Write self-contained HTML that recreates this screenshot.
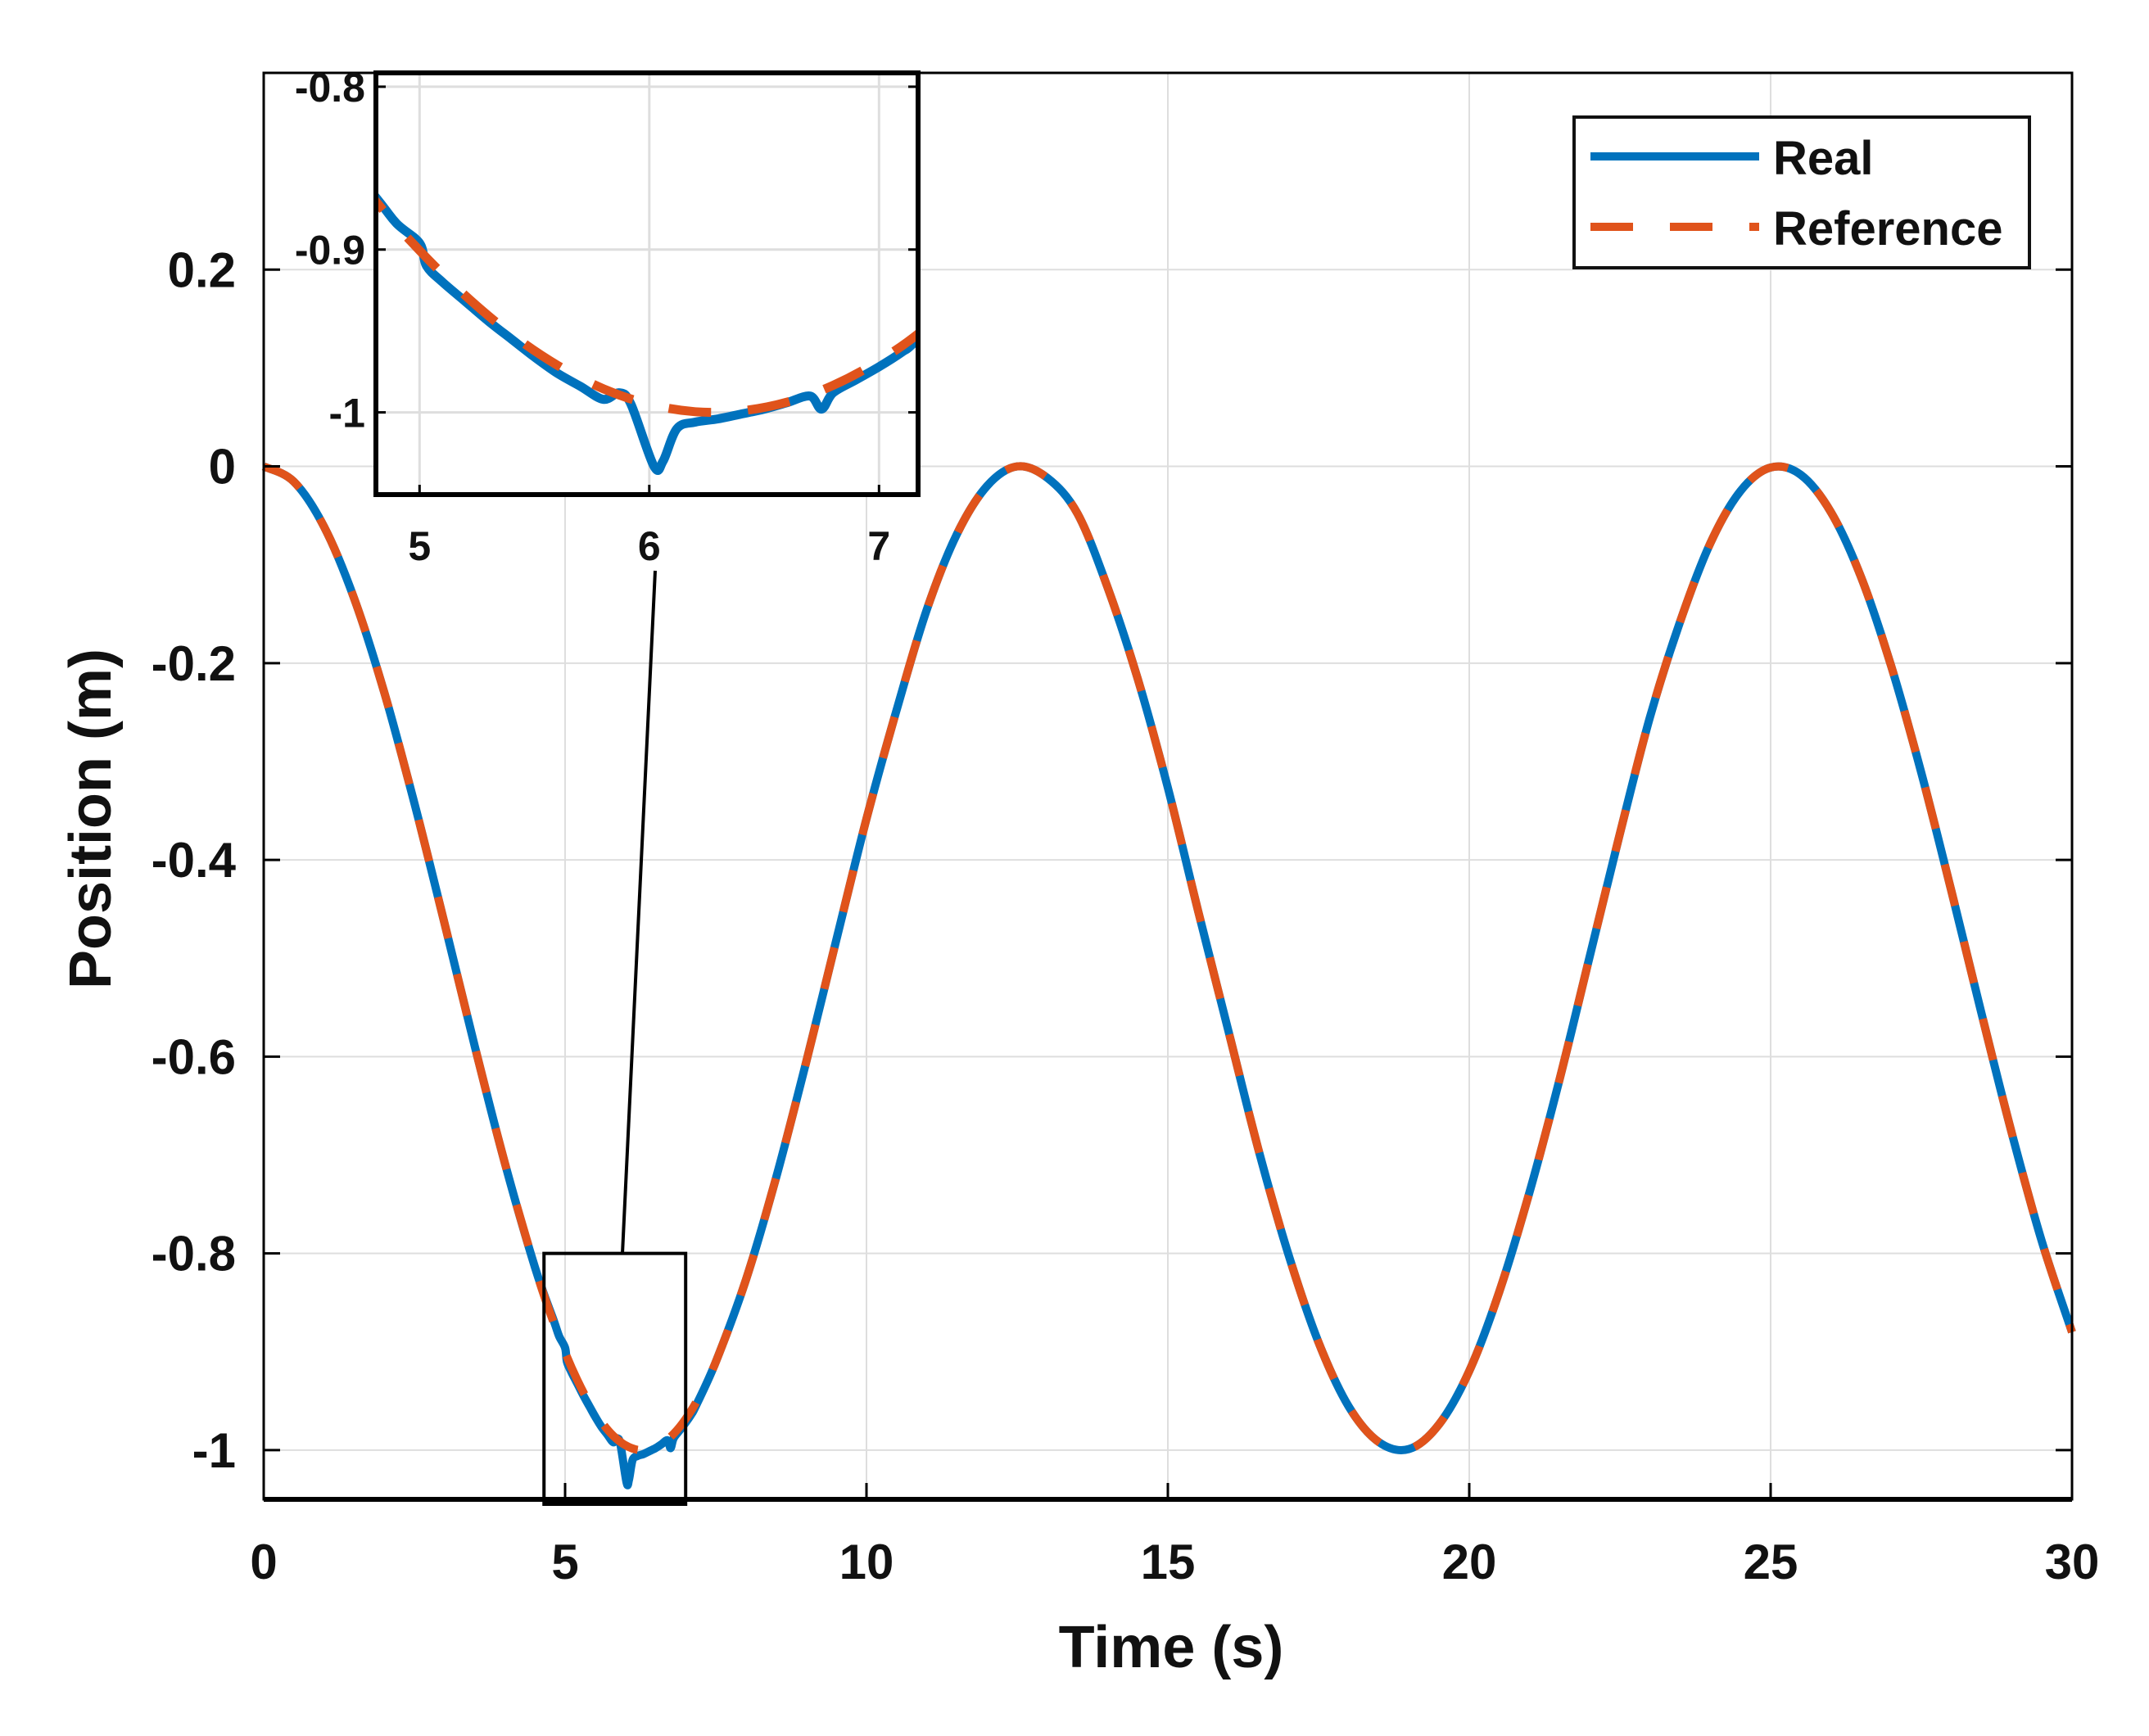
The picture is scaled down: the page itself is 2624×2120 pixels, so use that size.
<!DOCTYPE html>
<html><head><meta charset="utf-8"><style>
html,body{margin:0;padding:0;background:#fff;}
svg{display:block;}
text{font-family:"Liberation Sans",Arial,sans-serif;font-weight:bold;fill:#111;}
</style></head><body>
<svg id="chart" xmlns="http://www.w3.org/2000/svg" width="2624" height="2120" viewBox="0 0 2624 2120">
<rect width="2624" height="2120" fill="#fff"/>
<g id="grid"></g>
<g id="series"></g>
<g id="axes"></g>
<g id="inset"></g>
<g id="legend"></g>
</svg>
<script>
const xTicks=[0,5,10,15,20,25,30];
const xTickLabels=["0","5","10","15","20","25","30"];
const yTicks=[0.2,0,-0.2,-0.4,-0.6,-0.8,-1];
const yTickLabels=["0.2","0","-0.2","-0.4","-0.6","-0.8","-1"];
const refT=[0,0.5,1,1.5,2,2.5,3,3.5,4,4.5,4.8,5,5.2,5.4,5.6,5.8,6,6.2,6.4,6.6,6.8,7,7.2,7.5,8,8.5,9,9.5,10,10.5,11,11.5,12,12.5,13,13.5,14,14.5,15,15.5,16,16.5,17,17.5,18,18.5,19,19.5,20,20.5,21,21.5,22,22.5,23,23.5,24,24.5,25,25.5,26,26.5,27,27.5,28,28.5,29,29.5,30];
const refV=[0,-0.0155,-0.0612,-0.1342,-0.2298,-0.3424,-0.4646,-0.5891,-0.7081,-0.8141,-0.8687,-0.9006,-0.9284,-0.952,-0.9711,-0.9855,-0.995,-0.9996,-0.9991,-0.9937,-0.9834,-0.9683,-0.9484,-0.9103,-0.8268,-0.7231,-0.6054,-0.4812,-0.3582,-0.2476,-0.1457,-0.0689,-0.0199,0,-0.0117,-0.0479,-0.1231,-0.2159,-0.3267,-0.4514,-0.5728,-0.6939,-0.801,-0.8904,-0.9556,-0.9918,-0.9989,-0.9737,-0.9196,-0.8387,-0.7378,-0.6227,-0.4978,-0.3731,-0.2545,-0.1575,-0.078,-0.025,-0.0011,-0.0085,-0.0465,-0.1125,-0.203,-0.3115,-0.432,-0.5565,-0.6776,-0.788,-0.88];
const realT=[0,0.5,1,1.5,2,2.5,3,3.5,4,4.5,4.81,4.9,5,5.03,5.1,5.2,5.3,5.4,5.5,5.6,5.7,5.8,5.87,5.92,6.02,6.06,6.12,6.2,6.3,6.4,6.5,6.6,6.7,6.75,6.8,6.9,7,7.1,7.17,7.5,8,8.5,9,9.5,10,10.5,11,11.5,12,12.5,13,13.5,14,14.5,15,15.5,16,16.5,17,17.5,18,18.5,19,19.5,20,20.5,21,21.5,22,22.5,23,23.5,24,24.5,25,25.5,26,26.5,27,27.5,28,28.5,29,29.5,30];
const realV=[0,-0.0155,-0.0612,-0.1342,-0.2298,-0.3424,-0.4646,-0.5891,-0.7081,-0.8141,-0.868,-0.884,-0.896,-0.91,-0.92,-0.932,-0.944,-0.955,-0.966,-0.976,-0.984,-0.992,-0.988,-0.995,-1.033,-1.03,-1.01,-1.006,-1.004,-1.001,-0.998,-0.994,-0.99,-0.998,-0.988,-0.98,-0.972,-0.963,-0.955,-0.9103,-0.8268,-0.7231,-0.6054,-0.4812,-0.3582,-0.2476,-0.1457,-0.0689,-0.0199,0,-0.0117,-0.0479,-0.1231,-0.2159,-0.3267,-0.4514,-0.5728,-0.6939,-0.801,-0.8904,-0.9556,-0.9918,-0.9989,-0.9737,-0.9196,-0.8387,-0.7378,-0.6227,-0.4978,-0.3731,-0.2545,-0.1575,-0.078,-0.025,-0.0011,-0.0085,-0.0465,-0.1125,-0.203,-0.3115,-0.432,-0.5565,-0.6776,-0.788,-0.88];
const insetXTicks=[5,6,7];
const insetXTickLabels=["5","6","7"];
const insetYTicks=[-0.8,-0.9,-1];
const insetYTickLabels=["-0.8","-0.9","-1"];

const NS="http://www.w3.org/2000/svg";
function mk(tag,attrs,parent){const e=document.createElementNS(NS,tag);for(const k in attrs)e.setAttribute(k,attrs[k]);parent.appendChild(e);return e;}
const L=322,R=2530,T=89,B=1831,X0=0,X1=30,Y0=-1.05,Y1=0.4;
const xs=v=>L+(v-X0)/(X1-X0)*(R-L);
const ys=v=>B-(v-Y0)/(Y1-Y0)*(B-T);
function pathD(tArr,vArr,fx,fy){
  const p=tArr.map((t,i)=>[fx(t),fy(vArr[i])]);
  let d="M"+p[0][0].toFixed(1)+","+p[0][1].toFixed(1);
  for(let i=0;i<p.length-1;i++){
    const p0=p[Math.max(0,i-1)],p1=p[i],p2=p[i+1],p3=p[Math.min(p.length-1,i+2)];
    const c1=[p1[0]+(p2[0]-p0[0])/6,p1[1]+(p2[1]-p0[1])/6];
    const c2=[p2[0]-(p3[0]-p1[0])/6,p2[1]-(p3[1]-p1[1])/6];
    d+="C"+c1[0].toFixed(1)+","+c1[1].toFixed(1)+" "+c2[0].toFixed(1)+","+c2[1].toFixed(1)+" "+p2[0].toFixed(1)+","+p2[1].toFixed(1);
  }
  return d;
}
const grid=document.getElementById('grid');
xTicks.forEach(v=>{if(v>X0&&v<X1){const g=mk('line',{x1:xs(v),x2:xs(v),y1:T,y2:B,stroke:'#dedede','stroke-width':2},grid);

}});
yTicks.forEach(v=>{const g=mk('line',{x1:L,x2:R,y1:ys(v),y2:ys(v),stroke:'#dedede','stroke-width':2},grid);

});

const series=document.getElementById('series');
const rl=mk('path',{d:pathD(realT,realV,xs,ys),fill:'none',stroke:'#0072BD','stroke-width':10,'stroke-linejoin':'round'},series);


const fl=mk('path',{d:pathD(refT,refV,xs,ys),fill:'none',stroke:'#E0531B','stroke-width':10,'stroke-dasharray':'52 45'},series);



const axes=document.getElementById('axes');
const box=mk('rect',{x:L,y:T,width:R-L,height:B-T,fill:'none',stroke:'#000','stroke-width':3},axes);


mk('line',{x1:L,x2:R,y1:B,y2:B,stroke:'#000','stroke-width':6},axes);
xTicks.forEach((v,i)=>{
  mk('line',{x1:xs(v),x2:xs(v),y1:B,y2:B-20,stroke:'#000','stroke-width':3},axes);
  const t=mk('text',{x:xs(v),y:1928,'text-anchor':'middle','font-size':60},axes);
  t.textContent=xTickLabels[i];
  
  
});
yTicks.forEach((v,i)=>{
  mk('line',{x1:L,x2:L+20,y1:ys(v),y2:ys(v),stroke:'#000','stroke-width':3},axes);
  mk('line',{x1:R,x2:R-20,y1:ys(v),y2:ys(v),stroke:'#000','stroke-width':3},axes);
  const t=mk('text',{x:288,y:ys(v)+21,'text-anchor':'end','font-size':60},axes);
  t.textContent=yTickLabels[i];
  
  
});
const xt=mk('text',{x:1430,y:2036,'text-anchor':'middle','font-size':72},axes);
xt.textContent='Time (s)';


const yt=mk('text',{x:0,y:0,'text-anchor':'middle','font-size':72,transform:'translate(135,1000) rotate(-90)'},axes);
yt.textContent='Position (m)';



const zb=mk('rect',{x:xs(4.65),y:ys(-0.8),width:xs(7.0)-xs(4.65),height:B-ys(-0.8)+6,fill:'none',stroke:'#000','stroke-width':4},axes);


mk('rect',{x:xs(4.65),y:B-2,width:xs(7.0)-xs(4.65),height:10,fill:'#000'},axes);
const cl=mk('line',{x1:760,y1:ys(-0.8),x2:800,y2:697,stroke:'#000','stroke-width':4},axes);



const inset=document.getElementById('inset');
const iL=459,iR=1121,iT=89,iB=604,iX0=4.81,iX1=7.17,iY0=-1.0505,iY1=-0.7915;
const ixs=v=>iL+(v-iX0)/(iX1-iX0)*(iR-iL);
const iys=v=>iB-(v-iY0)/(iY1-iY0)*(iB-iT);
mk('rect',{x:iL,y:iT,width:iR-iL,height:iB-iT,fill:'#fff'},inset);
const clipDef=mk('clipPath',{id:'iclip'},inset);
mk('rect',{x:iL,y:iT,width:iR-iL,height:iB-iT},clipDef);
insetXTicks.forEach(v=>{const g=mk('line',{x1:ixs(v),x2:ixs(v),y1:iT,y2:iB,stroke:'#dedede','stroke-width':3},inset);

});
insetYTicks.forEach(v=>{const g=mk('line',{x1:iL,x2:iR,y1:iys(v),y2:iys(v),stroke:'#dedede','stroke-width':3},inset);

});
const ig=mk('g',{'clip-path':'url(#iclip)'},inset);
const irl=mk('path',{d:pathD(realT,realV,ixs,iys),fill:'none',stroke:'#0072BD','stroke-width':11,'stroke-linejoin':'round'},ig);


const ifl=mk('path',{d:pathD(refT,refV,ixs,iys),fill:'none',stroke:'#E0531B','stroke-width':11,'stroke-dasharray':'52 45','stroke-dashoffset':20},ig);


const ibox=mk('rect',{x:iL,y:iT,width:iR-iL,height:iB-iT,fill:'none',stroke:'#000','stroke-width':6},inset);


insetXTicks.forEach((v,i)=>{
  mk('line',{x1:ixs(v),x2:ixs(v),y1:iB,y2:iB-12,stroke:'#000','stroke-width':3},inset);
  const t=mk('text',{x:ixs(v),y:684,'text-anchor':'middle','font-size':50},inset);
  t.textContent=insetXTickLabels[i];
  
  
});
insetYTicks.forEach((v,i)=>{
  mk('line',{x1:iL,x2:iL+12,y1:iys(v),y2:iys(v),stroke:'#000','stroke-width':3},inset);
  mk('line',{x1:iR,x2:iR-12,y1:iys(v),y2:iys(v),stroke:'#000','stroke-width':3},inset);
  const t=mk('text',{x:446,y:iys(v)+18,'text-anchor':'end','font-size':50},inset);
  t.textContent=insetYTickLabels[i];
  
  
});

const lg=document.getElementById('legend');
const lb=mk('rect',{x:1922,y:143,width:556,height:184,fill:'#fff',stroke:'#111','stroke-width':4},lg);


mk('line',{x1:1942,x2:2148,y1:191,y2:191,stroke:'#0072BD','stroke-width':10},lg);
mk('line',{x1:1942,x2:2148,y1:277,y2:277,stroke:'#E0531B','stroke-width':10,'stroke-dasharray':'52 45'},lg);
const t1=mk('text',{x:2165,y:213,'font-size':58},lg);
t1.textContent='Real';


const t2=mk('text',{x:2165,y:299,'font-size':58},lg);
t2.textContent='Reference';


</script>
</body></html>
